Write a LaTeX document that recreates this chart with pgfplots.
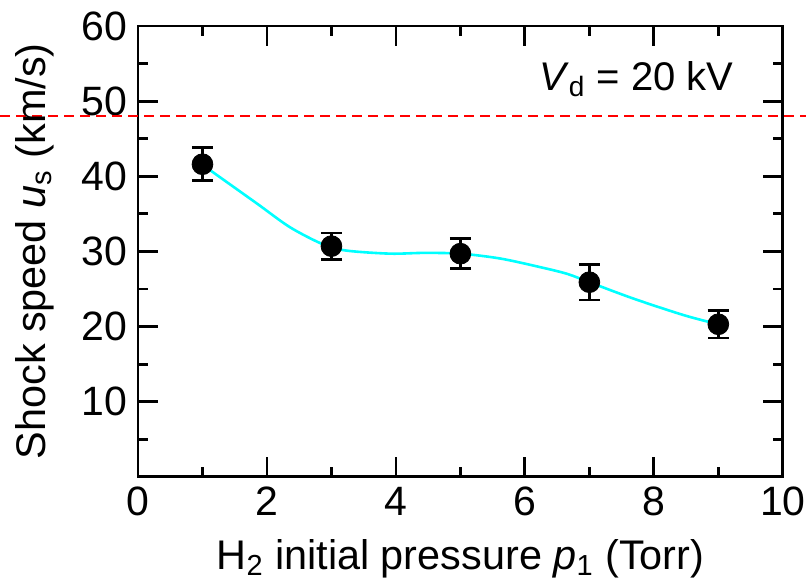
\documentclass[border=0pt]{standalone}
\usepackage{fontspec}
\setmainfont{Liberation Sans}
\usepackage{pgfplots}
\pgfplotsset{compat=1.18}
\definecolor{mycyan}{RGB}{0,255,255}
\definecolor{myred}{RGB}{255,0,0}
\begin{document}
\begin{tikzpicture}
\begin{axis}[
  width=322.4pt, height=225.4pt, scale only axis,
  xmin=0, xmax=10, ymin=0, ymax=60,
  xtick={0,2,...,10}, minor xtick={1,3,...,9},
  ytick={10,20,...,60}, minor ytick={5,15,...,55},
  major tick length=10pt, minor tick length=5pt,
  tick style={black, line width=1.4pt},
  axis line style={line width=1.4pt},
  tick align=inside,
  ticklabel style={font=\fontsize{20.5}{24}\selectfont},
  xticklabel style={inner xsep=0pt, inner ysep=5pt},
  yticklabel style={inner xsep=5pt, inner ysep=0pt},
  /pgf/number format/assume math mode=true,
  xlabel={H\textsubscript{2} initial pressure \textit{p}\textsubscript{1} (Torr)},
  ylabel={Shock speed \textit{u}\textsubscript{s} (km/s)},
  label style={font=\fontsize{20.7}{24}\selectfont, inner sep=2pt},
  xlabel style={yshift=-4.5pt},
  ylabel style={yshift=7pt},
  clip=false,
]
\addplot[myred, line width=1.2pt, dash pattern=on 5pt off 3pt] coordinates {(-2.14,48) (10.37,48)};
\addplot[mycyan, line width=1.3pt, smooth] coordinates {
  (1.0,41.6) (1.12,40.8) (1.84,36.4) (2.36,33.2) (2.88,30.9) (3.24,30.1)
  (3.91,29.7) (4.43,29.8) (5.0,29.7) (5.62,29.05) (6.24,27.9) (6.66,27.0)
  (7.0,25.9) (7.69,23.7) (8.47,21.5) (9.0,20.3)
};
\addplot[only marks, mark=*, mark size=5.2pt, black,
  error bars/.cd, y dir=both, y explicit,
  error bar style={line width=1.3pt, black},
  error mark options={line width=1.3pt, mark size=5.3pt, black, rotate=90}]
  coordinates {
  (1,41.6) +- (0,2.2)
  (3,30.7) +- (0,1.75)
  (5,29.7) +- (0,2.0)
  (7,25.9) +- (0,2.35)
  (9,20.3) +- (0,1.8)
};
\node[anchor=base east, inner sep=0pt, font=\fontsize{20}{24}\selectfont] at (axis cs:9.24,51.4)
  {\textit{V}\textsubscript{d} = 20 kV};
\end{axis}
\pgfresetboundingbox
\path[use as bounding box] ([shift={(-69pt,-52.6pt)}]current axis.south west) rectangle ([shift={(11.6pt,13pt)}]current axis.north east);
\end{tikzpicture}
\end{document}
